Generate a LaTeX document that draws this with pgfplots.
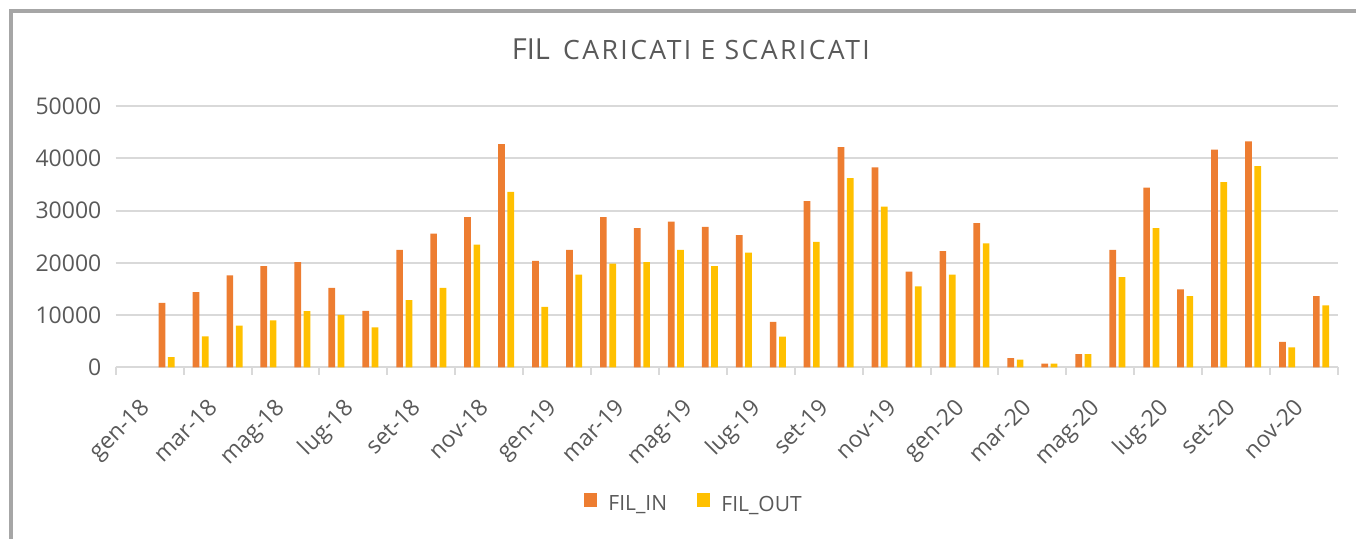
\documentclass[border=0pt]{standalone}
\usepackage{fontspec}
\setmainfont{Open Sans}
\newfontfamily\titlesc[LetterSpace=9]{Open Sans}
\usepackage{pgfplots}
\pgfplotsset{compat=1.18}
\definecolor{txt}{HTML}{595959}
\definecolor{gridc}{HTML}{D9D9D9}
\definecolor{framec}{HTML}{A6A6A6}
\definecolor{cin}{HTML}{ED7D31}
\definecolor{cout}{HTML}{FFC000}
\begin{document}
\begin{tikzpicture}
\path[use as bounding box] (-57.85pt,-85.75pt) rectangle (620.15pt,183.75pt);
\draw[framec, line width=1.65pt] (-52.35pt,-95pt) -- (-52.35pt,178.25pt) -- (630pt,178.25pt);
\begin{axis}[
  scale only axis, width=611.15pt, height=130.75pt,
  xmin=0, xmax=36, ymin=0, ymax=50000, enlargelimits=false,
  ybar=1.3pt, bar width=3.35pt,
  axis x line*=bottom, axis y line*=left,
  x axis line style={gridc, line width=1pt},
  y axis line style={draw=none},
  tick align=outside, major tick length=0pt, minor tick length=3.75pt,
  xtick={0.5,2.5,...,34.5},
  xticklabels={gen-18,mar-18,mag-18,lug-18,set-18,nov-18,gen-19,mar-19,mag-19,lug-19,set-19,nov-19,gen-20,mar-20,mag-20,lug-20,set-20,nov-20},
  minor xtick={0,2,...,36},
  xtick style={gridc, line width=1pt},
  xticklabel style={xshift=3pt, yshift=-14.5pt, rotate=45, anchor=north east, inner sep=0pt, font=\fontsize{11.5}{13}\selectfont, text=txt},
  ytick={0,10000,...,50000}, ytick style={draw=none},
  ymajorgrids, grid style={gridc, line width=1pt},
  scaled y ticks=false,
  /pgf/number format/.cd, 1000 sep={}, assume math mode=true, /pgfplots/.cd,
  yticklabel style={font=\fontsize{11.5}{13}\selectfont, text=txt, inner sep=0pt, xshift=-7pt},
  legend style={draw=none, fill=none, legend columns=-1, at={(0.4739,-0.5258)}, anchor=center, font=\fontsize{10.5}{12}\selectfont,
    /tikz/every odd column/.append style={column sep=3.5pt},
    /tikz/every even column/.append style={column sep=13pt}},
]
\addplot[fill=cin, draw=none, legend image code/.code={\fill[cin] (0pt,-0.85pt) rectangle (6.65pt,5.8pt);}] coordinates {
(1.5,12340) (2.5,14400) (3.5,17600) (4.5,19360) (5.5,20150) (6.5,15220) (7.5,10830) (8.5,22500) (9.5,25590) (10.5,28740)
(11.5,42720) (12.5,20400) (13.5,22500) (14.5,28740) (15.5,26640) (16.5,27890) (17.5,26900) (18.5,25330) (19.5,8730) (20.5,31820)
(21.5,42130) (22.5,38250) (23.5,18310) (24.5,22240) (25.5,27620) (26.5,1770) (27.5,720) (28.5,2560) (29.5,22500) (30.5,34380)
(31.5,14960) (32.5,41670) (33.5,43240) (34.5,4900) (35.5,13650)};
\addlegendentry{\textcolor{txt}{FIL\_IN}}
\addplot[fill=cout, draw=none, legend image code/.code={\fill[cout] (0pt,-0.85pt) rectangle (6.65pt,5.8pt);}] coordinates {
(1.5,2000) (2.5,5950) (3.5,8000) (4.5,9000) (5.5,10760) (6.5,10040) (7.5,7680) (8.5,12860) (9.5,15220) (10.5,23490)
(11.5,33600) (12.5,11610) (13.5,17780) (14.5,19880) (15.5,20140) (16.5,22500) (17.5,19360) (18.5,21980) (19.5,5900) (20.5,24020)
(21.5,36220) (22.5,30770) (23.5,15490) (24.5,17780) (25.5,23750) (26.5,1510) (27.5,720) (28.5,2560) (29.5,17260) (30.5,26640)
(31.5,13650) (32.5,35430) (33.5,38520) (34.5,3850) (35.5,11900)};
\addlegendentry{\textcolor{txt}{FIL\_OUT}}
\end{axis}
\node[anchor=base west, inner sep=0pt, text=txt] at (197.85pt,153.75pt) {\fontsize{14.5}{16}\selectfont FIL\hspace{2pt}{\titlesc\fontsize{13.3}{15}\selectfont\ CARICATI E SCARICATI}};
\end{tikzpicture}
\end{document}
